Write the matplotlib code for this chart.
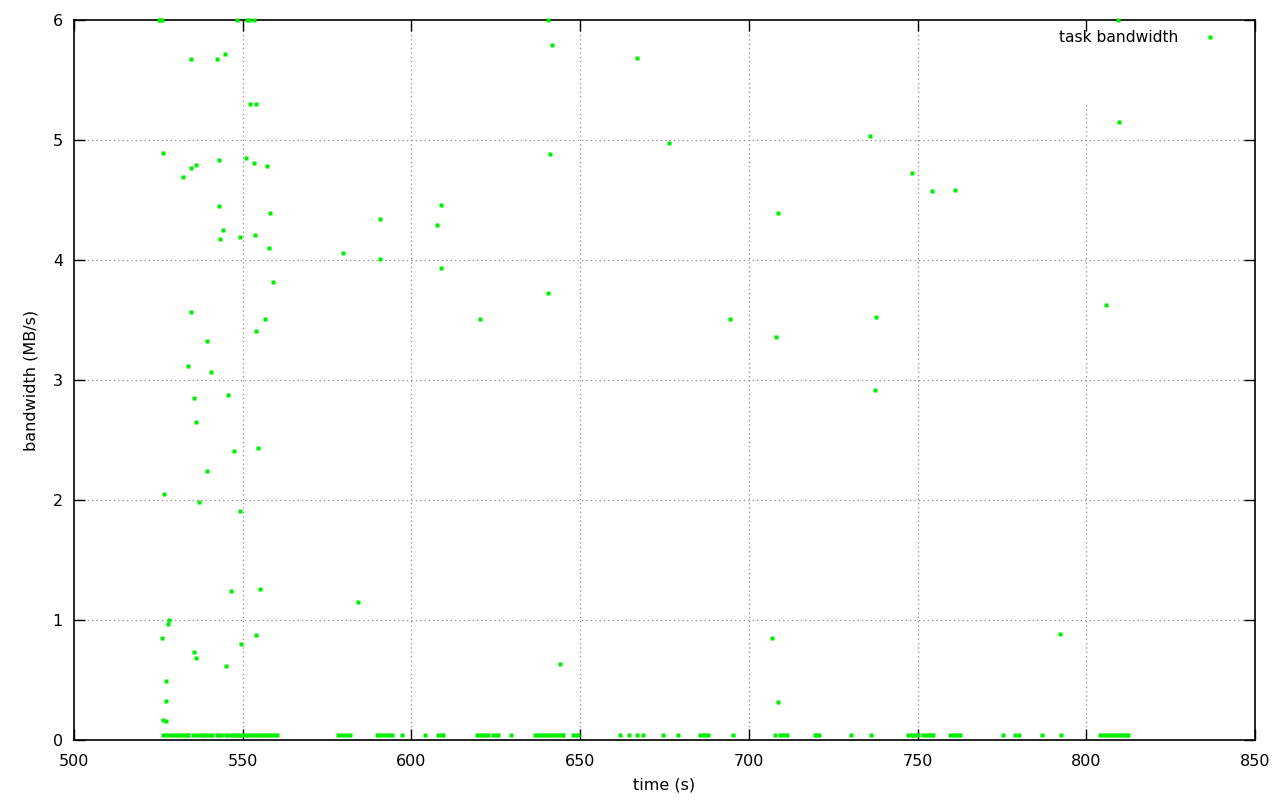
import numpy as np
import matplotlib
matplotlib.use("Agg")
from matplotlib import pyplot as plt

# scattered task bandwidth samples (time s, MB/s)
time_pts = [525.2, 525.6, 526.0, 548.2, 551.3, 552.0, 553.3, 640.5, 809.4,
            534.7, 542.4, 544.8, 641.7, 666.9, 676.3, 552.2, 553.9, 735.9, 809.7,
            526.4, 534.7, 536.2, 543.0, 551.0, 553.3, 557.2, 532.3, 641.1,
            748.4, 754.3, 761.1, 543.0, 558.1, 544.2, 543.3, 549.2, 553.6, 557.8,
            590.7, 607.6, 608.8, 579.7, 590.7, 608.8, 708.7, 559.0, 640.5, 805.9,
            737.7, 534.7, 556.6, 620.3, 694.4, 553.9, 708.1, 539.4, 533.8, 540.6,
            737.4, 535.6, 545.6, 536.2, 554.5, 547.4, 539.4, 526.7, 537.0, 549.2,
            555.1, 546.5, 584.2, 528.2, 527.9, 526.1, 553.9, 706.9, 792.2, 535.6,
            536.2, 549.5, 545.0, 644.0, 527.3, 527.3, 526.4, 527.3, 708.7]
bw_pts = [6.0, 6.0, 6.0, 6.0, 6.0, 6.0, 6.0, 6.0, 6.0,
          5.675, 5.675, 5.72, 5.79, 5.68, 4.975, 5.3, 5.3, 5.03, 5.15,
          4.89, 4.77, 4.79, 4.83, 4.85, 4.81, 4.78, 4.69, 4.88,
          4.725, 4.575, 4.58, 4.45, 4.39, 4.25, 4.175, 4.19, 4.21, 4.1,
          4.34, 4.29, 4.46, 4.06, 4.01, 3.93, 4.39, 3.82, 3.725, 3.625,
          3.525, 3.57, 3.51, 3.51, 3.51, 3.41, 3.36, 3.325, 3.12, 3.07,
          2.92, 2.85, 2.875, 2.65, 2.43, 2.41, 2.24, 2.05, 1.98, 1.91,
          1.26, 1.24, 1.15, 1.0, 0.97, 0.85, 0.875, 0.85, 0.88, 0.73,
          0.68, 0.8, 0.62, 0.63, 0.49, 0.325, 0.17, 0.16, 0.32]

# near-zero samples along the bottom
time_low = [526.5, 527.3, 528.0, 528.8, 529.6, 530.4, 531.2, 532.0, 532.8, 533.6, 533.9,
            535.4, 536.2, 537.0, 537.8, 538.6, 539.4, 540.2, 540.8,
            542.3, 543.0, 543.8, 545.1, 545.9, 546.7, 547.5, 548.2,
            549.0, 549.8, 550.6, 551.4, 552.2, 553.0, 553.6, 554.4, 555.2, 556.0,
            556.8, 557.6, 558.4, 559.2, 560.1,
            578.3, 579.2, 580.0, 581.0, 581.8, 589.7, 590.6, 591.5, 592.4, 593.3, 594.2,
            597.3, 604.0, 608.0, 608.7, 609.3,
            619.4, 620.2, 621.0, 621.9, 622.8, 624.3, 625.0, 625.8, 629.4,
            636.6, 637.4, 638.2, 639.0, 639.8, 640.6, 641.4, 642.2, 643.0, 643.8, 644.5, 645.0,
            648.0, 648.7, 649.5, 661.8, 664.6, 666.8, 668.7, 674.7, 679.1,
            685.5, 686.3, 687.1, 688.0, 695.2,
            707.6, 709.2, 709.9, 710.6, 711.2, 719.6, 720.3, 720.9, 730.2, 736.2,
            747.3, 748.0, 748.7, 749.5, 750.2, 751.7, 752.5, 753.2, 754.0, 754.7,
            759.6, 760.4, 761.1, 761.9, 762.6, 775.2, 778.9, 780.2, 786.8, 792.5,
            804.1, 804.9, 805.7, 806.5, 807.3, 808.1, 808.9, 809.7, 810.5, 811.3, 812.0, 812.5]
bw_low = [0.04] * len(time_low)

xticks = [500, 550, 600, 650, 700, 750, 800, 850]
yticks = [0, 1, 2, 3, 4, 5, 6]

green = '#00ee00'
grid_kw = dict(color='#8c8c8c', linestyle=(0, (1, 2.5)), linewidth=0.9, zorder=1)

fig = plt.figure(figsize=(12.8, 8), dpi=100)
ax = fig.add_axes([74/1280, 60/800, (1255-74)/1280, 720/800])

ax.plot(time_pts, bw_pts, ls='none', marker='s', ms=2.3,
        mec='none', color=green, clip_on=False, zorder=4, label='task bandwidth')
# bottom samples overlap heavily, so they read thicker
ax.plot(time_low, bw_low, ls='none', marker='s', ms=3.2,
        mec='none', color=green, clip_on=False, zorder=4)

ax.set_xlim(500, 850)
ax.set_ylim(0, 6)
ax.set_xticks(xticks)
ax.set_yticks(yticks)

# gnuplot style grid; the 800 line stops under the key
for xv in xticks[1:-1]:
    top = 5.3 if xv == 800 else 6
    ax.plot([xv, xv], [0, top], **grid_kw)
for yv in yticks[1:-1]:
    ax.axhline(yv, **grid_kw)

ax.tick_params(direction='in', length=8, width=1, top=True, right=True,
               labelsize=11.5, colors='black')
ax.tick_params(axis='x', pad=10)
ax.tick_params(axis='y', pad=8)
for sp in ax.spines.values():
    sp.set_linewidth(1.2)

ax.set_xlabel('time (s)', fontsize=11.5, labelpad=6)
ax.set_ylabel('bandwidth (MB/s)', fontsize=11.5, labelpad=10)

ax.legend(loc='upper right', frameon=False, markerfirst=False, fontsize=11.2,
          handlelength=1.5, handletextpad=1.33, bbox_to_anchor=(0.984, 1.005),
          markerscale=1.2)

fig.savefig('out.png', dpi=100)
